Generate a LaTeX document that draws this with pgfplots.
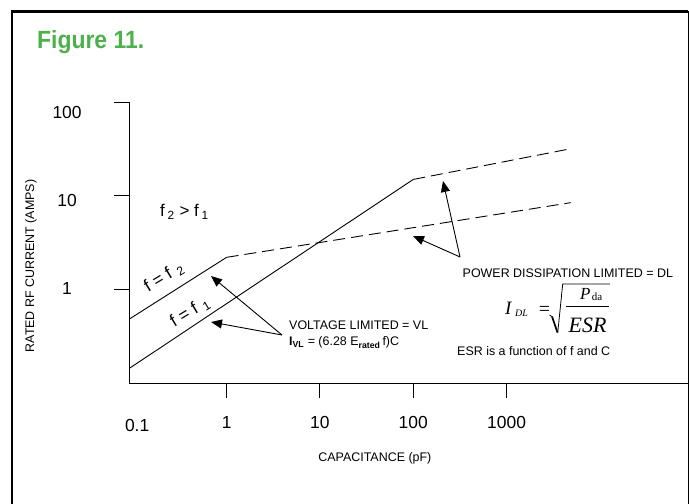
\documentclass[border=0pt]{standalone}
\usepackage{fontspec}
\setmainfont{Liberation Sans}
\newfontfamily\tnr{Liberation Serif}
\newfontfamily\condfont[FakeStretch=0.92]{Liberation Sans}
\usepackage{pgfplots}
\pgfplotsset{compat=1.18}
\usetikzlibrary{arrows.meta}
\definecolor{figgreen}{RGB}{77,176,74}
\begin{document}
\begin{tikzpicture}[x=1bp,y=1bp]
\useasboundingbox (0,0) rectangle (689,504);
% frame
\draw[line width=2.6bp] (12,0) -- (12,492.5) -- (688,492.5);
\draw[line width=1.3bp] (688.3,492.5) -- (688.3,0);
\node[anchor=base west, inner sep=0, text=figgreen, font=\condfont\bfseries\fontsize{25}{28}\selectfont] at (37,455) {Figure 11.};

\begin{axis}[
  at={(129bp,121bp)}, anchor=south west,
  scale only axis, width=560bp, height=281bp,
  xmode=log, ymode=log,
  xmin=0.09, xmax=9e4, ymin=0.1, ymax=100,
  axis x line*=bottom, axis y line*=left,
  axis line style={-, line width=0.9bp},
  xminorticks=false, yminorticks=false,
  tick align=outside, major tick length=15bp,
  tick style={black, line width=0.9bp},
  xtick={1,10,100,1000}, xticklabels={1,10,100,1000},
  extra x ticks={0.11}, extra x tick labels={0.1},
  extra x tick style={major tick length=0pt, xticklabel style={yshift=-18bp}},
  ytick={1,10,100}, yticklabels={1,\raisebox{-6bp}{10},\raisebox{-11bp}{100}},
  ticklabel style={font=\fontsize{17.5}{20}\selectfont, inner sep=0pt},
  xticklabel style={anchor=base, yshift=-31bp},
  yticklabel style={anchor=base, yshift=-5.3bp, xshift=-47bp},
  xlabel={CAPACITANCE (pF)},
  ylabel={RATED RF CURRENT (AMPS)},
  label style={font=\fontsize{12.5}{15}\selectfont},
  x label style={at={(axis description cs:0.439,-0.2776)}, anchor=base},
  y label style={at={(axis description cs:-0.175,0.4164)}, anchor=center},
]
\addplot[black, line width=0.9bp] coordinates {(0.09,0.479) (1,2.196)};
\addplot[black, line width=0.9bp, dash pattern=on 12bp off 6bp] coordinates {(1,2.196) (4860,8.42)};
\addplot[black, line width=0.9bp] coordinates {(0.09,0.1425) (100,14.9)};
\addplot[black, line width=0.9bp, dash pattern=on 12bp off 6bp] coordinates {(100,14.9) (4860,31.7)};
\end{axis}

% annotations
\node[anchor=base west, inner sep=0, font=\fontsize{17}{20}\selectfont] at (160,287.3) {f\,\textsubscript{2} > f\,\textsubscript{1}};
\node[rotate=31, inner sep=0, font=\fontsize{17.5}{20}\selectfont] at (164,227) {f = f\,\,\textsubscript{2}};
\node[rotate=31, inner sep=0, font=\fontsize{17.5}{20}\selectfont] at (190,192) {f = f\,\,\textsubscript{1}};

\node[anchor=base west, inner sep=0, font=\fontsize{12.5}{15}\selectfont] at (289,174.5) {VOLTAGE LIMITED = VL};
\node[anchor=base west, inner sep=0, font=\fontsize{12.5}{15}\selectfont] at (289,158) {\textbf{I}\textsubscript{\textbf{VL}} = (6.28 E\textsubscript{\textbf{rated}}\,f)C};

\node[anchor=base west, inner sep=0, font=\fontsize{12.5}{15}\selectfont] at (462.5,226) {POWER DISSIPATION LIMITED = DL};
% I_DL = sqrt(P_da / ESR)
\node[anchor=base west, inner sep=0, font=\tnr\itshape\fontsize{19}{22}\selectfont] at (505,189) {I};
\node[anchor=base west, inner sep=0, font=\tnr\itshape\fontsize{10}{11}\selectfont] at (515,187.3) {DL};
\node[anchor=center, inner sep=0, font=\tnr\fontsize{20}{22}\selectfont] at (544.5,193) {=};
\node[anchor=base west, inner sep=0, font=\tnr\itshape\fontsize{17}{20}\selectfont] at (580,204) {P};
\node[anchor=base west, inner sep=0, font=\tnr\fontsize{11}{12}\selectfont] at (591.7,203.3) {da};
\node[anchor=base west, inner sep=0, font=\tnr\itshape\fontsize{22}{25}\selectfont] at (568.5,171.3) {ESR};
\draw[line width=0.8bp] (566,198) -- (609,198);
\draw[line width=0.8bp, line join=miter] (549.5,189) -- (552,187.3);
\draw[line width=1.7bp] (552,187.5) -- (557.5,171.5);
\draw[line width=0.8bp, line join=miter] (557.7,171) -- (562.7,220) -- (610,220);

\node[anchor=base west, inner sep=0, font=\fontsize{12.5}{15}\selectfont] at (457,148) {ESR is a function of f and C};

\draw[-{Triangle[length=11bp,width=9bp]}, line width=0.9bp] (282,169) -- (211,228);
\draw[-{Triangle[length=11bp,width=9bp]}, line width=0.9bp] (282,169) -- (211,182);
\draw[-{Triangle[length=11bp,width=9bp]}, line width=0.9bp] (460,247) -- (443,323);
\draw[-{Triangle[length=11bp,width=9bp]}, line width=0.9bp] (460,247) -- (413,268);
\end{tikzpicture}
\end{document}
